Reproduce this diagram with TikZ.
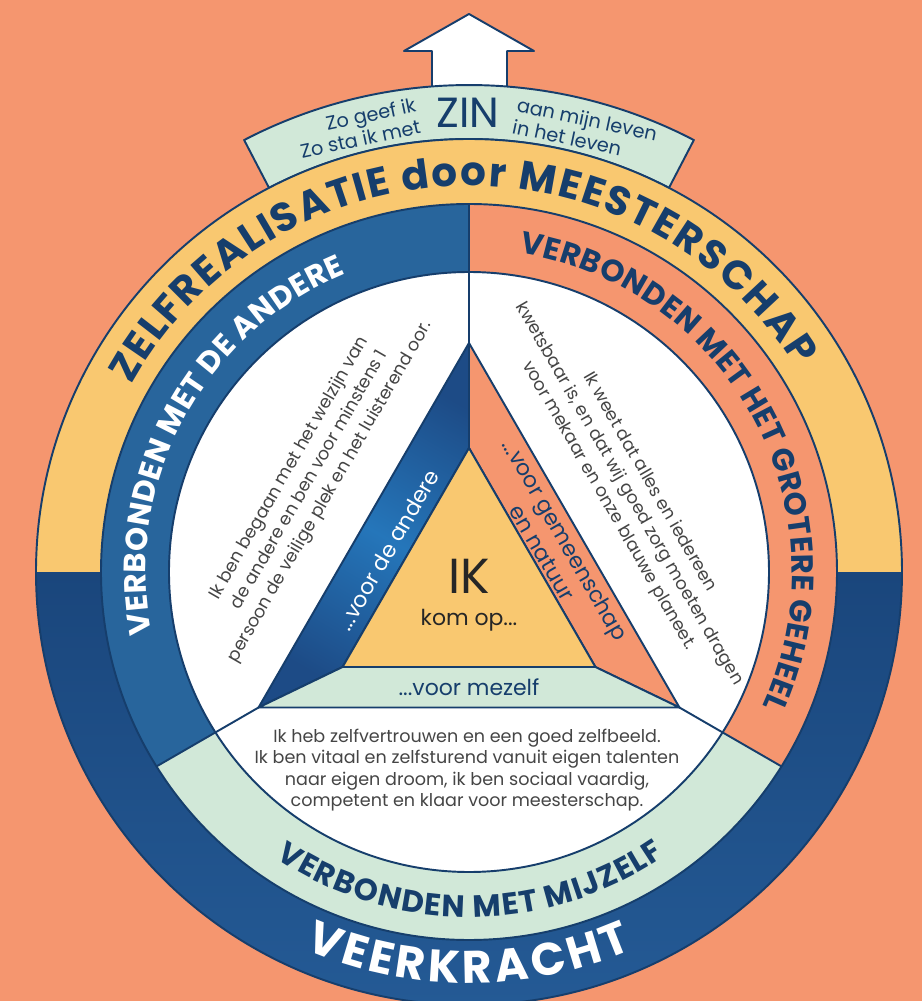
\documentclass[tikz,border=0pt]{standalone}
\usepackage{fontspec}
\setmainfont{Poppins}
\usetikzlibrary{calc,decorations.text}
\definecolor{achter}{HTML}{F5966F}
\definecolor{geel}{HTML}{F9C870}
\definecolor{navy}{HTML}{163E6C}
\definecolor{donkerblauw}{HTML}{1A467C}
\definecolor{blauwlicht}{HTML}{245A95}
\definecolor{middenblauw}{HTML}{28659C}
\definecolor{driehoekdonker}{HTML}{1D4B86}
\definecolor{driehoeklicht}{HTML}{2576BA}
\definecolor{lichtgroen}{HTML}{D1E8D8}
\definecolor{zalm}{HTML}{F5966F}
\definecolor{tekstgrijs}{HTML}{454545}
\begin{document}
\begin{tikzpicture}[x=0.02cm, y=0.02cm,
  rand/.style={draw=navy, line width=1.1pt, line join=round},
  uitleg/.style={text=tekstgrijs, align=center},
  driehoektekst/.style={font=\fontsize{12.5}{15}\selectfont}]
\useasboundingbox (-469,-429) rectangle (453,572);
\fill[achter] (-469,-429) rectangle (453,572);

% pijl en band met ZIN
\draw[rand, fill=white] (-37,470) -- (-37,521) -- (-65,521) -- (0,558) -- (65,521) -- (38,521) -- (38,470);
\draw[rand, fill=lichtgroen] (62.5:433) arc[start angle=62.5, end angle=117.5, radius=433]
  -- (117.5:487) arc[start angle=117.5, end angle=62.5, radius=487] -- cycle;

% buitenste ring
\fill[geel] (433,0) arc[start angle=0, end angle=180, radius=433] -- cycle;
\shade[top color=donkerblauw, bottom color=blauwlicht] (-433,0) arc[start angle=180, end angle=360, radius=433] -- cycle;
\draw[rand] (0,0) circle[radius=433];

% driehoek punten
\coordinate (C) at (0,-14);
\coordinate (oT) at ($(C)+(90:243)$);
\coordinate (oL) at ($(C)+(210:243)$);
\coordinate (oR) at ($(C)+(330:243)$);
\coordinate (Ci) at (0,-22);
\coordinate (iT) at ($(Ci)+(90:146)$);
\coordinate (iL) at ($(Ci)+(210:146)$);
\coordinate (iR) at ($(Ci)+(330:146)$);

% middelste ring
\begin{scope}
\clip (0,0) circle[radius=368];
\fill[middenblauw] (C) -- ($(C)+(90:900)$) -- ($(C)+(150:900)$) -- ($(C)+(210:900)$) -- cycle;
\fill[zalm] (C) -- ($(C)+(90:900)$) -- ($(C)+(30:900)$) -- ($(C)+(330:900)$) -- cycle;
\fill[lichtgroen] (C) -- ($(C)+(210:900)$) -- ($(C)+(270:900)$) -- ($(C)+(330:900)$) -- cycle;
\end{scope}
\draw[rand] (0,0) circle[radius=368];
\draw[rand, fill=white] (0,0) circle[radius=300];

\draw[rand] (oT) -- (0,368);
\draw[rand] (oL) -- ($(oL)+(210:118)$);
\draw[rand] (oR) -- ($(oR)+(330:118)$);

% driehoek
\draw[rand, top color=driehoekdonker, bottom color=driehoekdonker, middle color=driehoeklicht, shading angle=-30]
  (oT) -- (oL) -- (iL) -- (iT) -- cycle;
\draw[rand, fill=zalm] (oT) -- (oR) -- (iR) -- (iT) -- cycle;
\draw[rand, fill=lichtgroen] (oL) -- (oR) -- (iR) -- (iL) -- cycle;
\draw[rand, fill=geel] (iT) -- (iL) -- (iR) -- cycle;

% teksten langs de ringen
\path[decorate, decoration={text effects along path, text={ZELFREALISATIE door MEESTERSCHAP},
  text effects/.cd, text along path, fit text to path,
  characters={anchor=base, text=navy, font=\fontsize{23}{23}\selectfont\bfseries}}]
  (151:386) arc[start angle=151, end angle=32, radius=386];
\path[decorate, decoration={text effects along path, text={VERBONDEN MET DE ANDERE},
  text effects/.cd, text along path, fit text to path,
  characters={anchor=base, text=white, font=\fontsize{17.5}{17.5}\selectfont\bfseries}}]
  (191:323) arc[start angle=191, end angle=112.5, radius=323];
\path[decorate, decoration={text effects along path, text={VERBONDEN MET HET GROTERE GEHEEL},
  text effects/.cd, text along path, fit text to path,
  characters={anchor=base, text=navy, font=\fontsize{17.5}{17.5}\selectfont\bfseries}}]
  (81:323) arc[start angle=81, end angle=-24.5, radius=323];
\path[decorate, decoration={text effects along path, text={VERBONDEN MET MIJZELF},
  text effects/.cd, text along path, fit text to path,
  characters={anchor=base, text=navy, font=\fontsize{17.5}{17.5}\selectfont\bfseries}}]
  (236:345) arc[start angle=236, end angle=304.5, radius=345];
\path[decorate, decoration={text effects along path, text={VEERKRACHT},
  text effects/.cd, text along path, fit text to path,
  characters={anchor=base, text=white, font=\fontsize{26}{26}\selectfont\bfseries}}]
  (246.5:411) arc[start angle=246.5, end angle=293.5, radius=411];

% band bovenaan
\node[text=navy, font=\fontsize{24}{24}\selectfont] (zin) at (-1,459) {ZIN};
\node[text=navy, font=\fontsize{11}{12.5}\selectfont, align=right, rotate=12] (zogeef) at (-111,444) {Zo geef ik\\Zo sta ik met};
\node[text=navy, font=\fontsize{11}{12.5}\selectfont, align=left, rotate=-12] (aanmijn) at (116,442) {aan mijn leven\\in het leven};

% witte vlakken
\node[uitleg, font=\fontsize{10}{13.4}\selectfont, rotate=60] (andere) at (-159,92)
  {Ik ben begaan met het welzijn van\\de andere en ben voor minstens 1\\persoon de veilige plek en het luisterend oor.};
\node[uitleg, font=\fontsize{10}{13.4}\selectfont, rotate=-60] (grotere) at (160,78)
  {Ik weet dat alles en iedereen\\kwetsbaar is, en dat wij goed zorg moeten dragen\\voor mekaar en onze blauwe planeet.};
\node[uitleg, font=\fontsize{10}{12.2}\selectfont] (mijzelf) at (-2,-198)
  {Ik heb zelfvertrouwen en een goed zelfbeeld.\\Ik ben vitaal en zelfsturend vanuit eigen talenten\\naar eigen droom, ik ben sociaal vaardig,\\competent en klaar voor meesterschap.};

% in de driehoek
\node[text=black!85, font=\fontsize{28}{28}\selectfont] (ik) at (0,-4) {IK};
\node[text=black!85, font=\fontsize{12.5}{14}\selectfont] (komop) at (0,-48) {kom op...};
\node[driehoektekst, text=white, rotate=60] (voorandere) at (-81,22) {...voor de andere};
\node[driehoektekst, text=navy, rotate=-60, align=center] (voorgemeenschap) at (85,26) {...voor gemeenschap\\en natuur};
\node[driehoektekst, text=navy] (voormezelf) at (0,-115) {...voor mezelf};
\end{tikzpicture}
\end{document}
